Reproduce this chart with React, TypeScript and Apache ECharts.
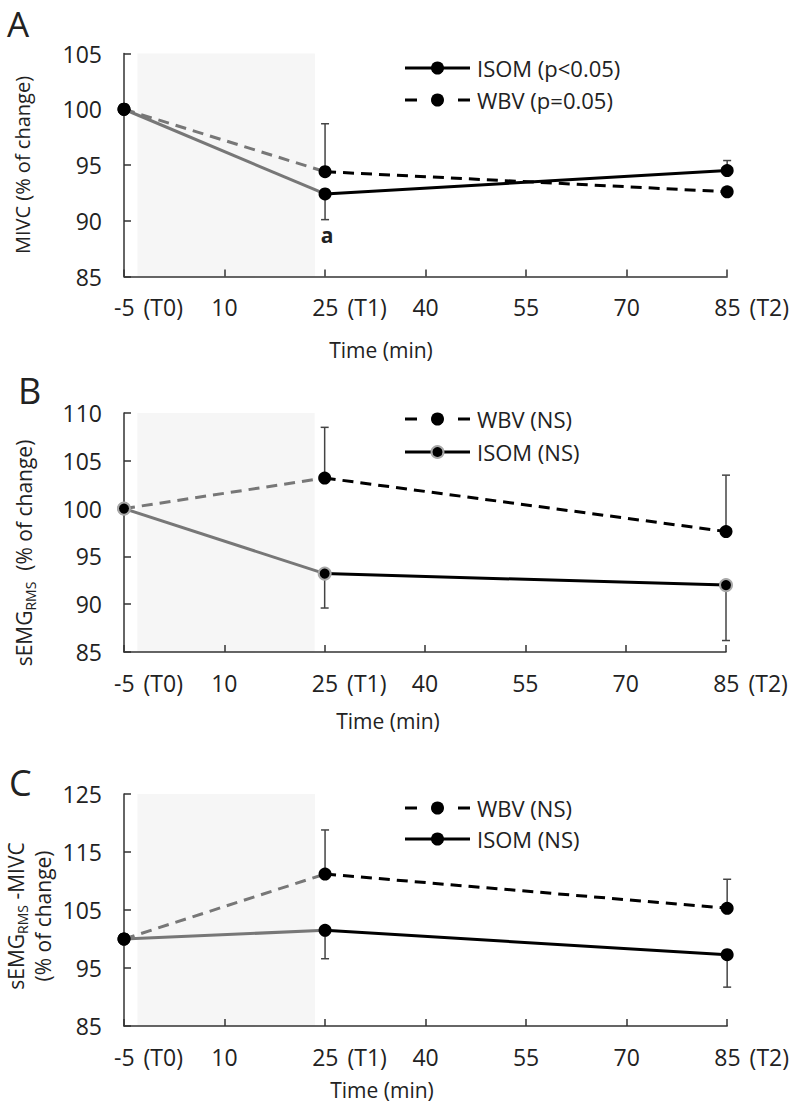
import React, { useEffect, useRef } from "react";
import * as echarts from "echarts";

// ---------- data ----------
const TIMES = [-5, 25, 85];
const X_TICKS = [-5, 10, 25, 40, 55, 70, 85];
const TIME_TAGS: Record<string, string> = { "-5": "(T0)", "25": "(T1)", "85": "(T2)" };
const SHADE = [-3, 23.5];

const A_Y_TICKS = [85, 90, 95, 100, 105];
const A_ISOM = [100, 92.4, 94.5];
const A_ISOM_ERR = [null, 90.1, 95.4];
const A_WBV = [100, 94.4, 92.6];
const A_WBV_ERR = [null, 98.7, 92.2];

const B_Y_TICKS = [85, 90, 95, 100, 105, 110];
const B_WBV = [100, 103.2, 97.6];
const B_WBV_ERR = [null, 108.5, 103.5];
const B_ISOM = [100, 93.2, 92.0];
const B_ISOM_ERR = [null, 89.6, 86.2];

const C_Y_TICKS = [85, 95, 105, 115, 125];
const C_WBV = [100, 111.2, 105.3];
const C_WBV_ERR = [null, 118.8, 110.3];
const C_ISOM = [100, 101.5, 97.3];
const C_ISOM_ERR = [null, 96.6, 91.7];

// ---------- styling ----------
const FONT = "'Open Sans', 'Noto Sans', sans-serif";
const TXT = "#222";
const AXIS = "#333";
const GRAY = "#777";
const DASH = [11, 7];
const TICK_FS = 23;

type Grp = {
  key: string;
  values: number[];
  err: (number | null)[];
  dashed: boolean;
  outlined?: boolean;
};

type Panel = {
  grid: { left: number; top: number; width: number; height: number };
  yMin: number;
  yMax: number;
  yTicks: number[];
  groups: Grp[];
};

const PANELS: Panel[] = [
  {
    grid: { left: 124, top: 53.5, width: 606, height: 223 },
    yMin: 85, yMax: 105, yTicks: A_Y_TICKS,
    groups: [
      { key: "A_ISOM", values: A_ISOM, err: A_ISOM_ERR, dashed: false },
      { key: "A_WBV", values: A_WBV, err: A_WBV_ERR, dashed: true },
    ],
  },
  {
    grid: { left: 124, top: 413, width: 602, height: 239 },
    yMin: 85, yMax: 110, yTicks: B_Y_TICKS,
    groups: [
      { key: "B_WBV", values: B_WBV, err: B_WBV_ERR, dashed: true },
      { key: "B_ISOM", values: B_ISOM, err: B_ISOM_ERR, dashed: false, outlined: true },
    ],
  },
  {
    grid: { left: 124, top: 794, width: 606, height: 232 },
    yMin: 85, yMax: 125, yTicks: C_Y_TICKS,
    groups: [
      { key: "C_WBV", values: C_WBV, err: C_WBV_ERR, dashed: true },
      { key: "C_ISOM", values: C_ISOM, err: C_ISOM_ERR, dashed: false },
    ],
  },
];

function xLabel(v: number) {
  const tag = TIME_TAGS[String(v)];
  return tag ? `{pad| }{n|${v}}{t|${tag}}` : `{n|${v}}`;
}

function buildOption() {
  const grid: any[] = [];
  const xAxis: any[] = [];
  const yAxis: any[] = [];
  const series: any[] = [];

  PANELS.forEach((p, i) => {
    grid.push({ ...p.grid, containLabel: false });
    xAxis.push({
      type: "value",
      gridIndex: i,
      min: X_TICKS[0],
      max: X_TICKS[X_TICKS.length - 1],
      axisLine: { show: true, onZero: false, lineStyle: { color: AXIS, width: 1.5 } },
      axisTick: { show: true, inside: true, length: 7, customValues: X_TICKS, lineStyle: { color: AXIS, width: 1.5 } },
      axisLabel: {
        customValues: X_TICKS,
        margin: 19,
        color: TXT,
        fontFamily: FONT,
        fontSize: TICK_FS,
        formatter: xLabel,
        rich: {
          pad: { width: 49, fontSize: TICK_FS, fontFamily: FONT },
          n: { fontSize: TICK_FS, fontFamily: FONT, color: TXT },
          t: { padding: [0, 0, 0, 9], fontSize: TICK_FS, fontFamily: FONT, color: TXT },
        },
      },
      splitLine: { show: false },
    });
    yAxis.push({
      type: "value",
      gridIndex: i,
      min: p.yMin,
      max: p.yMax,
      axisLine: { show: true, onZero: false, lineStyle: { color: AXIS, width: 1.5 } },
      axisTick: { show: true, inside: true, length: 7, customValues: p.yTicks, lineStyle: { color: AXIS, width: 1.5 } },
      axisLabel: { customValues: p.yTicks, margin: 22, color: TXT, fontFamily: FONT, fontSize: TICK_FS },
      splitLine: { show: false },
    });

    // shaded intervention period
    series.push({
      type: "custom",
      name: "shade" + i,
      xAxisIndex: i,
      yAxisIndex: i,
      silent: true,
      data: [[SHADE[0], SHADE[1], p.yMin, p.yMax]],
      encode: { x: [0, 1], y: [2, 3] },
      z: 0,
      renderItem: (_params: any, api: any) => {
        const a = api.coord([api.value(0), api.value(3)]);
        const b = api.coord([api.value(1), api.value(2)]);
        return {
          type: "rect",
          shape: { x: a[0], y: a[1], width: b[0] - a[0], height: b[1] - a[1] },
          style: { fill: "#f6f6f6" },
        };
      },
    });

    p.groups.forEach((g) => {
      const pts = TIMES.map((t, k) => [t, g.values[k]]);
      const lineStyle = { width: 3, type: g.dashed ? DASH : "solid" };
      // gray segment T0 -> T1
      series.push({
        type: "line",
        name: g.key + "_pre",
        xAxisIndex: i,
        yAxisIndex: i,
        data: pts.slice(0, 2),
        showSymbol: false,
        symbol: "none",
        lineStyle: { ...lineStyle, color: GRAY },
        z: 3,
      });
      // black segment T1 -> T2
      series.push({
        type: "line",
        name: g.key + "_post",
        xAxisIndex: i,
        yAxisIndex: i,
        data: pts.slice(1),
        showSymbol: false,
        symbol: "none",
        lineStyle: { ...lineStyle, color: "#000" },
        z: 3,
      });
      // error bars (one-sided)
      const errData = TIMES.map((t, k) => [t, g.values[k], g.err[k]]).filter((d) => d[2] != null);
      series.push({
        type: "custom",
        name: g.key + "_err",
        xAxisIndex: i,
        yAxisIndex: i,
        data: errData,
        encode: { x: 0, y: [1, 2] },
        z: 2,
        renderItem: (_params: any, api: any) => {
          const x = api.value(0);
          const y = api.value(1);
          const e = api.value(2);
          const a = api.coord([x, y]);
          const b = api.coord([x, e]);
          const st = { stroke: "#444", lineWidth: 1.5 };
          return {
            type: "group",
            children: [
              { type: "line", shape: { x1: a[0], y1: a[1], x2: b[0], y2: b[1] }, style: st },
              { type: "line", shape: { x1: b[0] - 4, y1: b[1], x2: b[0] + 4, y2: b[1] }, style: st },
            ],
          };
        },
      });
      // markers
      series.push({
        type: "scatter",
        name: g.key + "_pts",
        xAxisIndex: i,
        yAxisIndex: i,
        data: pts,
        symbol: "circle",
        symbolSize: g.outlined ? 12 : 13,
        itemStyle: g.outlined
          ? { color: "#000", borderColor: "#a8a8a8", borderWidth: 2, opacity: 1 }
          : { color: "#000", opacity: 1 },
        z: 5,
      });
    });
  });

  // ---------- graphic (labels, titles, legends) ----------
  const graphic: any[] = [];
  const txt = (text: string, x: number, y: number, fontSize = 20, extra: any = {}) => ({
    type: "text",
    x,
    y,
    style: { text, fontSize, fontFamily: FONT, fill: TXT, align: "left", verticalAlign: "middle", ...extra },
  });

  // panel letters
  graphic.push(txt("A", 7, 23, 35, { lineHeight: 34 }));
  graphic.push(txt("B", 18, 390, 36, { lineHeight: 34 }));
  graphic.push(txt("C", 9, 782, 36, { lineHeight: 34 }));

  // x axis titles
  graphic.push(txt("Time (min)", 381, 350, 21, { align: "center" }));
  graphic.push(txt("Time (min)", 388, 721, 21, { align: "center" }));
  graphic.push(txt("Time (min)", 382, 1090, 21, { align: "center" }));

  // "a" annotation
  graphic.push(txt("a", 327, 235, 21, { align: "center", fontWeight: "bold" }));

  // y axis titles (rotated)
  const rich = {
    b: { fontSize: 21, fontFamily: FONT, fill: TXT, lineHeight: 27 },
    s: { fontSize: 14, fontFamily: FONT, fill: TXT, lineHeight: 15, verticalAlign: "bottom" },
  };
  graphic.push({
    type: "text",
    x: 22,
    y: 165,
    rotation: Math.PI / 2,
    style: { text: "MIVC (% of change)", fontSize: 20, fontFamily: FONT, fill: TXT, align: "center", verticalAlign: "middle" },
  });
  graphic.push({
    type: "text",
    x: 24,
    y: 553,
    rotation: Math.PI / 2,
    style: { text: "{b|sEMG}{s|RMS}{b|  (% of change)}", rich, align: "center", verticalAlign: "middle" },
  });
  graphic.push({
    type: "text",
    x: 29,
    y: 916,
    rotation: Math.PI / 2,
    style: { text: "{b|sEMG}{s|RMS}{b| -MIVC}\n{b|(% of change)}", rich, align: "center", verticalAlign: "middle" },
  });

  // legends
  const legendRow = (y: number, label: string, dashed: boolean, outlined = false) => {
    const st = { stroke: "#000", lineWidth: 3 };
    const items: any[] = [];
    if (dashed) {
      items.push({ type: "line", shape: { x1: 405, y1: y, x2: 417, y2: y }, style: st });
      items.push({ type: "line", shape: { x1: 458, y1: y, x2: 470, y2: y }, style: st });
    } else {
      items.push({ type: "line", shape: { x1: 405, y1: y, x2: 470, y2: y }, style: st });
    }
    items.push({
      type: "circle",
      shape: { cx: 437.5, cy: y, r: outlined ? 6 : 6.5 },
      style: outlined ? { fill: "#000", stroke: "#a8a8a8", lineWidth: 2 } : { fill: "#000" },
    });
    items.push(txt(label, 477, y, 22, { lineHeight: 24 }));
    return items;
  };
  graphic.push(...legendRow(68, "ISOM (p<0.05)", false));
  graphic.push(...legendRow(100, "WBV (p=0.05)", true));
  graphic.push(...legendRow(419, "WBV (NS)", true));
  graphic.push(...legendRow(452, "ISOM (NS)", false, true));
  graphic.push(...legendRow(808, "WBV (NS)", true));
  graphic.push(...legendRow(839, "ISOM (NS)", false));

  return {
    animation: false,
    backgroundColor: "#ffffff",
    textStyle: { fontFamily: FONT },
    grid,
    xAxis,
    yAxis,
    series,
    graphic,
  };
}

export default function App() {
  const ref = useRef<HTMLDivElement>(null);
  useEffect(() => {
    if (!ref.current) return;
    const chart = echarts.init(ref.current, undefined, { renderer: "svg" });
    chart.setOption(buildOption() as any);
    return () => chart.dispose();
  }, []);
  return (
    <div
      ref={ref}
      style={{ position: "absolute", left: 0, top: 0, width: 792, height: 1107, background: "#fff" }}
    />
  );
}
